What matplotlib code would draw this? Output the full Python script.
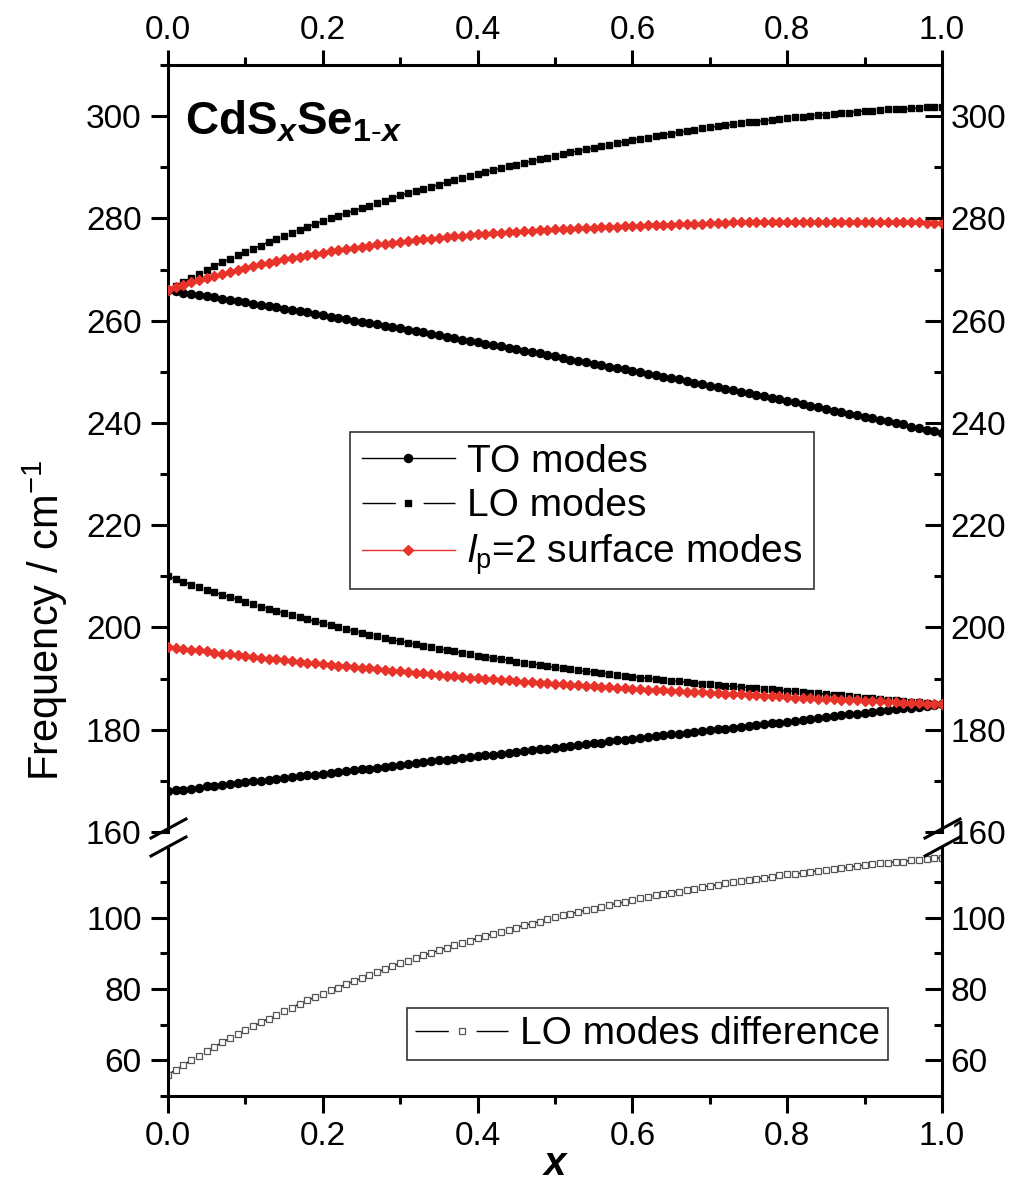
import numpy as np
import matplotlib
matplotlib.use("Agg")
import matplotlib.pyplot as plt
from matplotlib.ticker import MultipleLocator
from matplotlib.lines import Line2D

plt.rcParams['font.family'] = ['Liberation Sans', 'DejaVu Sans']
plt.rcParams['mathtext.fontset'] = 'custom'
plt.rcParams['mathtext.rm'] = 'Liberation Sans'
plt.rcParams['mathtext.it'] = 'Liberation Sans:italic'
plt.rcParams['mathtext.bf'] = 'Liberation Sans:bold'
plt.rcParams['mathtext.bfit'] = 'Liberation Sans:bold:italic'

# composition x (0 .. 1, step 0.01)
x = np.round(np.arange(101) * 0.01, 2)

# upper LO branch (cm-1)
lo_up = [266.0, 266.8, 267.6, 268.4, 269.2, 269.9, 270.7, 271.4, 272.1, 272.8,
         273.5, 274.1, 274.7, 275.4, 276.0, 276.6, 277.2, 277.8, 278.4, 278.9,
         279.5, 280.0, 280.5, 281.0, 281.5, 282.0, 282.5, 283.0, 283.5, 284.0,
         284.5, 284.9, 285.4, 285.8, 286.2, 286.6, 287.1, 287.5, 287.9, 288.3,
         288.7, 289.1, 289.4, 289.8, 290.2, 290.5, 290.9, 291.2, 291.6, 291.9,
         292.3, 292.6, 292.9, 293.2, 293.5, 293.8, 294.1, 294.4, 294.7, 295.0,
         295.3, 295.6, 295.8, 296.1, 296.3, 296.6, 296.8, 297.1, 297.3, 297.6,
         297.8, 298.0, 298.2, 298.4, 298.6, 298.8, 298.9, 299.1, 299.3, 299.5,
         299.7, 299.8, 299.9, 300.1, 300.2, 300.3, 300.5, 300.6, 300.7, 300.9,
         301.0, 301.1, 301.2, 301.3, 301.4, 301.4, 301.5, 301.6, 301.7, 301.7,
         301.8]

# upper TO branch
to_up = [266.0, 265.8, 265.5, 265.3, 265.0, 264.8, 264.6, 264.3, 264.1, 263.8,
         263.6, 263.3, 263.1, 262.8, 262.6, 262.3, 262.1, 261.8, 261.6, 261.3,
         261.1, 260.8, 260.5, 260.3, 260.0, 259.8, 259.5, 259.3, 259.0, 258.8,
         258.5, 258.2, 258.0, 257.7, 257.4, 257.2, 256.9, 256.6, 256.3, 256.1,
         255.8, 255.5, 255.2, 255.0, 254.7, 254.4, 254.1, 253.8, 253.6, 253.3,
         253.0, 252.7, 252.4, 252.2, 251.9, 251.6, 251.3, 251.0, 250.8, 250.5,
         250.2, 249.9, 249.6, 249.3, 249.0, 248.8, 248.5, 248.2, 247.9, 247.6,
         247.3, 247.0, 246.7, 246.4, 246.1, 245.8, 245.5, 245.2, 244.9, 244.6,
         244.3, 244.0, 243.7, 243.4, 243.1, 242.8, 242.4, 242.1, 241.8, 241.5,
         241.2, 240.9, 240.6, 240.3, 240.0, 239.7, 239.3, 239.0, 238.7, 238.4,
         238.1]

# upper surface mode (lp=2)
sf_up = [266.0, 266.5, 267.0, 267.5, 267.9, 268.4, 268.8, 269.2, 269.6, 270.0,
         270.3, 270.7, 271.0, 271.3, 271.7, 272.0, 272.3, 272.5, 272.8, 273.1,
         273.3, 273.6, 273.8, 274.0, 274.3, 274.5, 274.7, 274.9, 275.0, 275.2,
         275.4, 275.6, 275.7, 275.9, 276.0, 276.2, 276.3, 276.5, 276.6, 276.8,
         276.9, 277.0, 277.1, 277.2, 277.3, 277.4, 277.5, 277.6, 277.7, 277.8,
         277.9, 278.0, 278.0, 278.1, 278.2, 278.2, 278.3, 278.4, 278.4, 278.5,
         278.6, 278.6, 278.7, 278.7, 278.8, 278.8, 278.9, 278.9, 279.0, 279.0,
         279.1, 279.1, 279.1, 279.2, 279.2, 279.2, 279.2, 279.3, 279.3, 279.3,
         279.3, 279.3, 279.3, 279.3, 279.3, 279.3, 279.3, 279.3, 279.3, 279.3,
         279.3, 279.3, 279.3, 279.2, 279.2, 279.2, 279.2, 279.2, 279.1, 279.1,
         279.1]

# lower LO branch
lo_low = [210.0, 209.5, 208.9, 208.4, 207.9, 207.4, 206.9, 206.4, 205.9, 205.5,
          205.0, 204.6, 204.1, 203.7, 203.2, 202.8, 202.4, 202.0, 201.6, 201.2,
          200.8, 200.4, 200.1, 199.7, 199.3, 199.0, 198.6, 198.3, 198.0, 197.6,
          197.3, 197.0, 196.7, 196.4, 196.1, 195.8, 195.6, 195.3, 195.0, 194.8,
          194.5, 194.3, 194.0, 193.8, 193.6, 193.3, 193.1, 192.9, 192.7, 192.4,
          192.2, 192.0, 191.8, 191.6, 191.4, 191.3, 191.1, 190.9, 190.7, 190.6,
          190.4, 190.2, 190.1, 189.9, 189.8, 189.6, 189.5, 189.3, 189.2, 189.0,
          188.9, 188.8, 188.6, 188.5, 188.4, 188.2, 188.1, 188.0, 187.9, 187.7,
          187.6, 187.5, 187.4, 187.2, 187.1, 187.0, 186.8, 186.7, 186.6, 186.4,
          186.3, 186.2, 186.0, 185.9, 185.8, 185.7, 185.5, 185.4, 185.3, 185.1,
          185.0]

# lower surface mode (lp=2)
sf_low = [196.2, 196.0, 195.8, 195.6, 195.5, 195.3, 195.1, 194.9, 194.8, 194.6,
          194.4, 194.2, 194.1, 193.9, 193.8, 193.6, 193.4, 193.3, 193.1, 193.0,
          192.8, 192.7, 192.5, 192.4, 192.2, 192.1, 192.0, 191.8, 191.7, 191.5,
          191.4, 191.3, 191.1, 191.0, 190.9, 190.7, 190.6, 190.5, 190.4, 190.2,
          190.1, 190.0, 189.9, 189.8, 189.7, 189.5, 189.4, 189.3, 189.2, 189.1,
          189.0, 188.9, 188.8, 188.7, 188.6, 188.5, 188.4, 188.3, 188.2, 188.1,
          188.0, 187.9, 187.8, 187.8, 187.7, 187.6, 187.5, 187.4, 187.4, 187.3,
          187.2, 187.1, 187.0, 187.0, 186.9, 186.8, 186.7, 186.6, 186.6, 186.5,
          186.4, 186.3, 186.3, 186.2, 186.1, 186.0, 186.0, 185.9, 185.8, 185.8,
          185.7, 185.6, 185.6, 185.5, 185.4, 185.3, 185.3, 185.2, 185.1, 185.1,
          185.0]

# lower TO branch
to_low = [168.0, 168.2, 168.3, 168.5, 168.7, 168.9, 169.0, 169.2, 169.4, 169.5,
          169.7, 169.9, 170.0, 170.2, 170.4, 170.6, 170.7, 170.9, 171.1, 171.2,
          171.4, 171.6, 171.7, 171.9, 172.1, 172.3, 172.4, 172.6, 172.8, 172.9,
          173.1, 173.3, 173.4, 173.6, 173.8, 174.0, 174.1, 174.3, 174.5, 174.6,
          174.8, 175.0, 175.1, 175.3, 175.5, 175.7, 175.8, 176.0, 176.2, 176.3,
          176.5, 176.7, 176.8, 177.0, 177.2, 177.4, 177.5, 177.7, 177.9, 178.0,
          178.2, 178.4, 178.5, 178.7, 178.9, 179.1, 179.2, 179.4, 179.6, 179.7,
          179.9, 180.1, 180.2, 180.4, 180.6, 180.8, 180.9, 181.1, 181.3, 181.4,
          181.6, 181.8, 181.9, 182.1, 182.3, 182.5, 182.6, 182.8, 183.0, 183.1,
          183.3, 183.5, 183.6, 183.8, 184.0, 184.2, 184.3, 184.5, 184.7, 184.8,
          185.0]

# LO modes difference (upper LO - lower LO)
lo_diff = [56.0, 57.3, 58.7, 60.0, 61.3, 62.5, 63.8, 65.0, 66.2, 67.3,
           68.5, 69.5, 70.6, 71.7, 72.8, 73.8, 74.8, 75.8, 76.8, 77.7,
           78.7, 79.6, 80.4, 81.3, 82.2, 83.0, 83.9, 84.7, 85.5, 86.4,
           87.2, 87.9, 88.7, 89.4, 90.1, 90.8, 91.5, 92.2, 92.9, 93.5,
           94.2, 94.8, 95.4, 96.0, 96.6, 97.2, 97.8, 98.3, 98.9, 99.5,
           100.1, 100.6, 101.1, 101.6, 102.1, 102.5, 103.0, 103.5, 104.0, 104.4,
           104.9, 105.4, 105.7, 106.2, 106.5, 107.0, 107.3, 107.8, 108.1, 108.6,
           108.9, 109.2, 109.6, 109.9, 110.2, 110.6, 110.8, 111.1, 111.4, 111.8,
           112.1, 112.3, 112.5, 112.9, 113.1, 113.3, 113.7, 113.9, 114.1, 114.5,
           114.7, 114.9, 115.2, 115.4, 115.6, 115.7, 116.0, 116.2, 116.4, 116.6,
           116.8]

W = 1016
H = 1184
fig = plt.figure(figsize=(W / 100, H / 100), dpi=100)

L, R = 168 / W, 942 / W
ax1 = fig.add_axes([L, 1 - 832 / H, R - L, (832 - 65) / H])
ax2 = fig.add_axes([L, 1 - 1096 / H, R - L, (1096 - 848) / H])

spw = 2.2
dash = (18, 16)
red = '#e8332a'
tfs = 24

# --- upper panel ---
ax1.plot(x, to_up, '-', color='black', lw=1, marker='o', ms=5.8, zorder=3)
ax1.plot(x, to_low, '-', color='black', lw=1, marker='o', ms=5.8, zorder=3)
ax1.plot(x, lo_up, color='black', lw=1, dashes=dash, marker='s', ms=4.6, zorder=3)
ax1.plot(x, lo_low, color='black', lw=1, dashes=dash, marker='s', ms=4.6, zorder=3)
ax1.plot(x, sf_up, '-', color=red, lw=1, marker='D', ms=5.2, zorder=4)
ax1.plot(x, sf_low, '-', color=red, lw=1, marker='D', ms=5.2, zorder=4)

ax1.set_xlim(0, 1)
ax1.set_ylim(160, 310)
ax1.spines['bottom'].set_visible(False)

# --- lower panel ---
ax2.plot(x, lo_diff, color='black', lw=1, dashes=dash, marker='s', ms=5.0,
         mfc='white', mec='#555555', mew=0.9)
ax2.set_xlim(0, 1)
ax2.set_ylim(50, 119.5)
ax2.spines['top'].set_visible(False)

for ax in (ax1, ax2):
    ax.yaxis.set_major_locator(MultipleLocator(20))
    ax.yaxis.set_minor_locator(MultipleLocator(10))
    ax.xaxis.set_major_locator(MultipleLocator(0.2))
    ax.xaxis.set_minor_locator(MultipleLocator(0.1))
    ax.xaxis.set_major_formatter(matplotlib.ticker.FormatStrFormatter('%.1f'))
    for s in ax.spines.values():
        s.set_linewidth(spw)
    ax.tick_params(axis='y', which='both', left=True, right=False,
                   labelleft=True, labelright=False, width=spw,
                   labelsize=tfs, direction='out', pad=7)
    ax.tick_params(axis='y', which='major', length=12)
    ax.tick_params(axis='y', which='minor', length=6)
    # right side ticks point inward
    tw = ax.twinx()
    tw.set_ylim(ax.get_ylim())
    tw.yaxis.set_major_locator(MultipleLocator(20))
    tw.yaxis.set_minor_locator(MultipleLocator(10))
    tw.tick_params(axis='y', which='both', direction='in', width=spw,
                   labelsize=tfs, pad=6)
    tw.tick_params(axis='y', which='major', length=12)
    tw.tick_params(axis='y', which='minor', length=6)
    for s in tw.spines.values():
        s.set_visible(False)

ax1.tick_params(axis='x', which='both', bottom=False, labelbottom=False,
                top=True, labeltop=True, direction='out', width=spw,
                labelsize=tfs, pad=3)
ax1.tick_params(axis='x', which='major', length=11)
ax1.tick_params(axis='x', which='minor', length=6)
ax2.tick_params(axis='x', which='both', top=False, labeltop=False,
                bottom=True, labelbottom=True, direction='out', width=spw,
                labelsize=tfs, pad=6)
ax2.tick_params(axis='x', which='major', length=12)
ax2.tick_params(axis='x', which='minor', length=6)

# break marks
for px in (168, 942):
    for py in (829, 847):
        fig.add_artist(Line2D([(px - 17) / W, (px + 18) / W],
                              [1 - (py + 9) / H, 1 - (py - 10) / H],
                              color='black', lw=2.2))

# title
ax1.text(0.022, 0.909, r'$\mathbf{CdS}_{\mathbfit{x}}\mathbf{Se}_{\mathbf{1}\text{-}\mathbfit{x}}$',
         transform=ax1.transAxes, fontsize=33, va='baseline', ha='left')

# legends
h1 = Line2D([], [], color='black', lw=1, marker='o', ms=5.8)
h2 = Line2D([], [], color='black', lw=1, dashes=(24, 20), marker='s', ms=4.6)
h3 = Line2D([], [], color=red, lw=1, marker='D', ms=5.2)
leg1 = ax1.legend([h1, h2, h3],
                  ['TO modes', 'LO modes', r'$\mathit{l}_{\mathrm{p}}$=2 surface modes'],
                  loc='upper left', bbox_to_anchor=(0.235, 0.5215), fontsize=28,
                  handlelength=2.4, handletextpad=0.3, numpoints=1, frameon=True,
                  fancybox=False, edgecolor='black', borderpad=0.3,
                  labelspacing=0.22, borderaxespad=0)
leg1.get_frame().set_linewidth(1.2)

h4 = Line2D([], [], color='black', lw=1, dashes=(24, 20), marker='s', ms=5.0,
            mfc='white', mec='#555555', mew=0.9)
leg2 = ax2.legend([h4], ['LO modes difference'], loc='lower right',
                  bbox_to_anchor=(0.930, 0.145), fontsize=28, handlelength=2.4,
                  handletextpad=0.3, numpoints=1, frameon=True, fancybox=False,
                  edgecolor='black', borderpad=0.2, borderaxespad=0)
leg2.get_frame().set_linewidth(1.2)

# axis labels
fig.text(45 / W, 1 - 620 / H, r'Frequency / cm$^{-1}$', rotation=90,
         ha='center', va='center', fontsize=30)
fig.text(555 / W, 1 - 1164 / H, 'x', fontsize=29, fontweight='bold',
         style='italic', ha='center', va='center')

fig.savefig('out.png', dpi=100)
